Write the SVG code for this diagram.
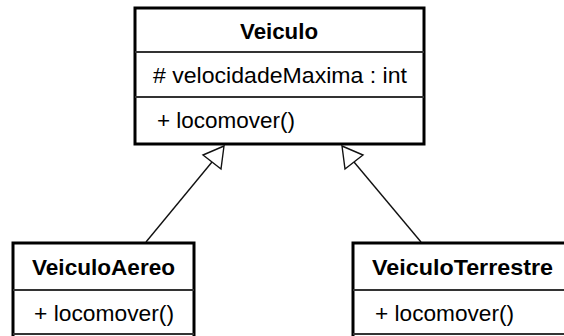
<svg xmlns="http://www.w3.org/2000/svg" width="564" height="336" viewBox="0 0 564 336">
<style>
.box{fill:#fff;stroke:#000;stroke-width:3}
.div{stroke:#333;stroke-width:2}
.t{font-family:"Liberation Sans",Arial,sans-serif;font-size:22px;fill:#000}
.b{font-weight:bold}
.c{fill:none;stroke:#111;stroke-width:1.4}
.h{fill:#fff;stroke:#111;stroke-width:1.4;stroke-linejoin:miter}
</style>
<rect width="564" height="336" fill="#fff"/>
<g id="connectors">
<line class="c" x1="146" y1="242" x2="212" y2="162"/>
<polygon class="h" points="224,146 203,155 221,169"/>
<line class="c" x1="421" y1="242" x2="354" y2="162"/>
<polygon class="h" points="342,146 363,155 345,169"/>
</g>
<g id="Veiculo">
<rect class="box" x="135" y="8" width="289" height="136"/>
<line class="div" x1="135" y1="52" x2="424" y2="52"/>
<line class="div" x1="135" y1="97" x2="424" y2="97"/>
<text class="t b" x="240" y="39" textLength="78" lengthAdjust="spacingAndGlyphs">Veiculo</text>
<text class="t" x="153" y="83" textLength="254" lengthAdjust="spacingAndGlyphs"># velocidadeMaxima : int</text>
<text class="t" x="157" y="128" textLength="138" lengthAdjust="spacingAndGlyphs">+ locomover()</text>
</g>
<g id="VeiculoAereo">
<rect class="box" x="13" y="243" width="181" height="110"/>
<line class="div" x1="13" y1="290" x2="194" y2="290"/>
<line class="div" x1="13" y1="334" x2="194" y2="334"/>
<text class="t b" x="32" y="275" textLength="143" lengthAdjust="spacingAndGlyphs">VeiculoAereo</text>
<text class="t" x="34" y="321" textLength="140" lengthAdjust="spacingAndGlyphs">+ locomover()</text>
</g>
<g id="VeiculoTerrestre">
<rect class="box" x="353" y="243" width="219" height="110"/>
<line class="div" x1="353" y1="290" x2="572" y2="290"/>
<line class="div" x1="353" y1="334" x2="572" y2="334"/>
<text class="t b" x="372" y="275" textLength="181" lengthAdjust="spacingAndGlyphs">VeiculoTerrestre</text>
<text class="t" x="375" y="321" textLength="139" lengthAdjust="spacingAndGlyphs">+ locomover()</text>
</g>
</svg>
